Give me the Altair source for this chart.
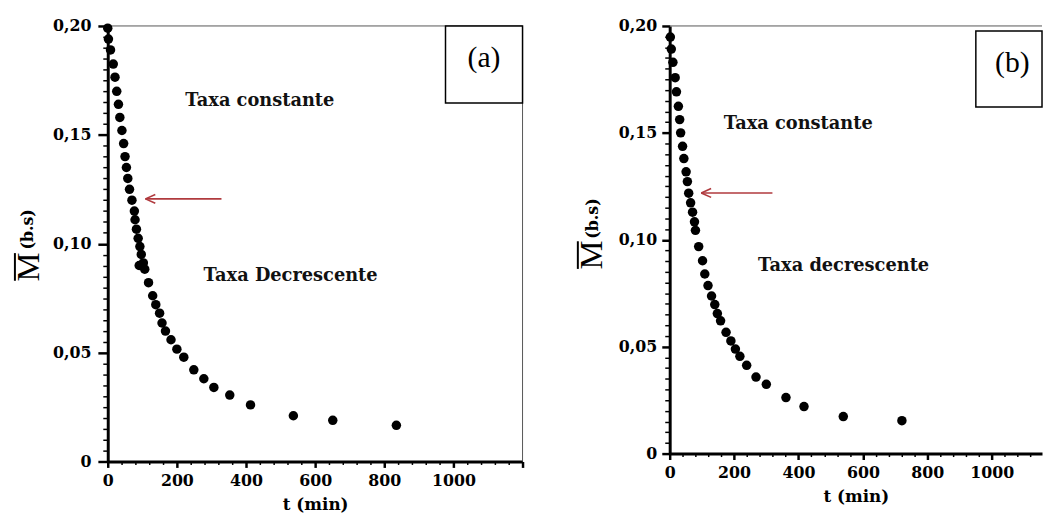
import altair as alt
import pandas as pd

# ---------------- data ----------------
# Panel (a)
t_a = [0, 2, 8, 16, 21, 26, 31, 35, 41, 46, 50, 54, 58, 63, 70, 77, 79, 83, 88, 91,
       93, 97, 103, 107, 118, 130, 139, 150, 157, 167, 183, 200, 220, 249, 278, 307,
       353, 413, 537, 651, 835]
m_a = [0.199, 0.194, 0.189, 0.1825, 0.1765, 0.170, 0.164, 0.158, 0.152, 0.146, 0.140,
       0.135, 0.130, 0.125, 0.120, 0.115, 0.111, 0.1067, 0.1025, 0.090, 0.0987, 0.0951,
       0.0912, 0.0883, 0.0821, 0.0761, 0.072, 0.0681, 0.0636, 0.0599, 0.0559, 0.0516,
       0.0479, 0.0421, 0.038, 0.034, 0.0305, 0.026, 0.021, 0.0189, 0.0166]

# Panel (b)
t_b = [2, 5, 10, 17, 21, 27, 31, 34, 40, 44, 51, 55, 59, 65, 71, 77, 80, 90, 102, 109,
       119, 130, 140, 148, 158, 175, 190, 204, 218, 239, 268, 300, 361, 417, 539, 721]
m_b = [0.1948, 0.1892, 0.183, 0.1758, 0.1692, 0.1624, 0.1562, 0.150, 0.1437, 0.138,
       0.1318, 0.1272, 0.1218, 0.1173, 0.1129, 0.1084, 0.1044, 0.0968, 0.0902, 0.084,
       0.0786, 0.0737, 0.0697, 0.0655, 0.0621, 0.0567, 0.0527, 0.0489, 0.0455, 0.0413,
       0.0358, 0.0324, 0.0262, 0.022, 0.0173, 0.0154]

notes_a_t = [440, 529]
notes_a_m = [0.1655, 0.0853]
notes_a_label = ["Taxa constante", "Taxa Decrescente"]

notes_b_t = [399, 540]
notes_b_m = [0.1543, 0.0878]
notes_b_label = ["Taxa constante", "Taxa decrescente"]

# arrow: tip t, tail t, level M
arrow_a = [109, 329, 0.1206]
arrow_b = [98, 319, 0.1219]

y_tick_values = [round(i * 0.005, 3) for i in range(41)]

SERIF_BOLD = "DejaVu Serif"
TIMES = "Liberation Serif"


def panel(t, m, nt, nm, nl, arrow, W, H, xmax, tag, box, tag_pos, ytitle,
          ylabpad, ymajor):
    xscale = alt.Scale(domain=[0, xmax], nice=False, zero=False)
    yscale = alt.Scale(domain=[0, 0.2], nice=False, zero=False)
    x_major = "datum.value % 200 === 0"
    y_major = "abs(datum.value*20 - round(datum.value*20)) < 0.001"
    xaxis = alt.Axis(
        values=[v for v in range(0, 1201, 40) if v <= xmax],
        title="t (min)", format="d",
        labelExpr=f"({x_major}) && datum.value < 1200 ? datum.label : ''",
        tickSize={"condition": {"test": x_major, "value": 6}, "value": 3},
        tickWidth={"condition": {"test": x_major, "value": 2.5}, "value": 1.5},
        domainWidth=3, domainColor="black", tickColor="black",
        labelFont=SERIF_BOLD, labelFontWeight="bold", labelFontSize=16,
        labelColor="black", labelPadding=5, labelFlush=False, labelOverlap=False,
        titleFont=SERIF_BOLD, titleFontWeight="bold", titleFontSize=17,
        titleColor="black", titlePadding=9, grid=False)
    yaxis = alt.Axis(
        values=y_tick_values, title=None,
        labelExpr=f"({y_major}) ? (datum.value == 0 ? '0' : replace(format(datum.value, '.2f'), '.', ',')) : ''",
        tickSize={"condition": {"test": y_major, "value": ymajor}, "value": 5},
        tickWidth={"condition": {"test": y_major, "value": 2.5}, "value": 1.5},
        domainWidth=3, domainColor="black", tickColor="black",
        labelFont=SERIF_BOLD, labelFontWeight="bold", labelFontSize=16,
        labelColor="black", labelPadding=ylabpad, labelFlush=False,
        labelOverlap=False, grid=False)

    X = alt.X("t:Q", scale=xscale, axis=xaxis)
    Y = alt.Y("M:Q", scale=yscale, axis=yaxis)

    one = pd.DataFrame({"k": [0]})

    border_top = alt.Chart(one).mark_rule(color="#555", strokeWidth=1).encode(
        x=alt.value(0), x2=alt.value(W), y=alt.value(0))
    layers = [border_top]
    if xmax >= 1200:
        border_right = alt.Chart(one).mark_rule(color="#555", strokeWidth=1).encode(
            x=alt.value(W), y=alt.value(0), y2=alt.value(H))
        layers.append(border_right)

    pts = alt.Chart(pd.DataFrame({"t": t, "M": m})).mark_circle(
        size=92, color="black", opacity=1).encode(x=X, y=Y)
    layers.append(pts)

    tip, tail, lev = arrow
    dx = 10 * xmax / W
    dy = 4.5 * 0.2 / H
    arr = pd.DataFrame({
        "t": [tail, tip, tip], "t2": [tip, tip + dx, tip + dx],
        "M": [lev, lev, lev], "M2": [lev, lev + dy, lev - dy]})
    arrow_layer = alt.Chart(arr).mark_rule(color="#b03a3e", strokeWidth=1.6).encode(
        x=X, x2="t2:Q", y=Y, y2="M2:Q")
    layers.append(arrow_layer)

    notes = alt.Chart(pd.DataFrame({"t": nt, "M": nm, "label": nl})).mark_text(
        font=SERIF_BOLD, fontWeight="bold", fontSize=18, color="#111",
        align="center", baseline="middle").encode(x=X, y=Y, text="label:N")
    layers.append(notes)

    bx0, bx1, by0, by1 = box
    box_layer = alt.Chart(one).mark_rect(
        fill="white", stroke="black", strokeWidth=1.5).encode(
        x=alt.value(bx0), x2=alt.value(bx1), y=alt.value(by0), y2=alt.value(by1))
    layers.append(box_layer)
    tag_layer = alt.Chart(one).mark_text(
        text=tag, font=TIMES, fontSize=30, color="black",
        align="center", baseline="middle").encode(
        x=alt.value(tag_pos[0]), y=alt.value(tag_pos[1]))
    layers.append(tag_layer)

    (mx, my), (bsx, bsy), olx = ytitle
    m_layer = alt.Chart(one).mark_text(
        text="M", font=TIMES, fontSize=33, color="black", angle=270,
        align="center", baseline="middle").encode(x=alt.value(mx), y=alt.value(my))
    ol_layer = alt.Chart(one).mark_rule(color="black", strokeWidth=2).encode(
        x=alt.value(olx), y=alt.value(my - 14), y2=alt.value(my + 14))
    bs_layer = alt.Chart(one).mark_text(
        text="(b.s)", font=SERIF_BOLD, fontWeight="bold", fontSize=16, color="black",
        angle=270, align="center", baseline="middle").encode(
        x=alt.value(bsx), y=alt.value(bsy))
    layers += [m_layer, ol_layer, bs_layer]

    return alt.layer(*layers).properties(width=W, height=H)


pa = panel(t_a, m_a, notes_a_t, notes_a_m, notes_a_label, arrow_a,
           W=420, H=441, xmax=1200, tag="(a)",
           box=(342, 420, 0, 78), tag_pos=(381, 33),
           ytitle=((-80, 244), (-81, 206), -94), ylabpad=7, ymajor=10)

pb = panel(t_b, m_b, notes_b_t, notes_b_m, notes_b_label, arrow_b,
           W=377, H=433, xmax=1156, tag="(b)",
           box=(310, 377, 5, 82), tag_pos=(347, 38),
           ytitle=((-79, 232), (-78, 195), -93), ylabpad=5, ymajor=8)

chart = alt.hconcat(pa, pb, spacing=52).properties(
    padding={"left": 5, "top": 7, "right": 0, "bottom": 0},
    background="white",
).configure_view(stroke=None)

chart.save("out.html", embed_options={"renderer": "svg", "actions": False})
